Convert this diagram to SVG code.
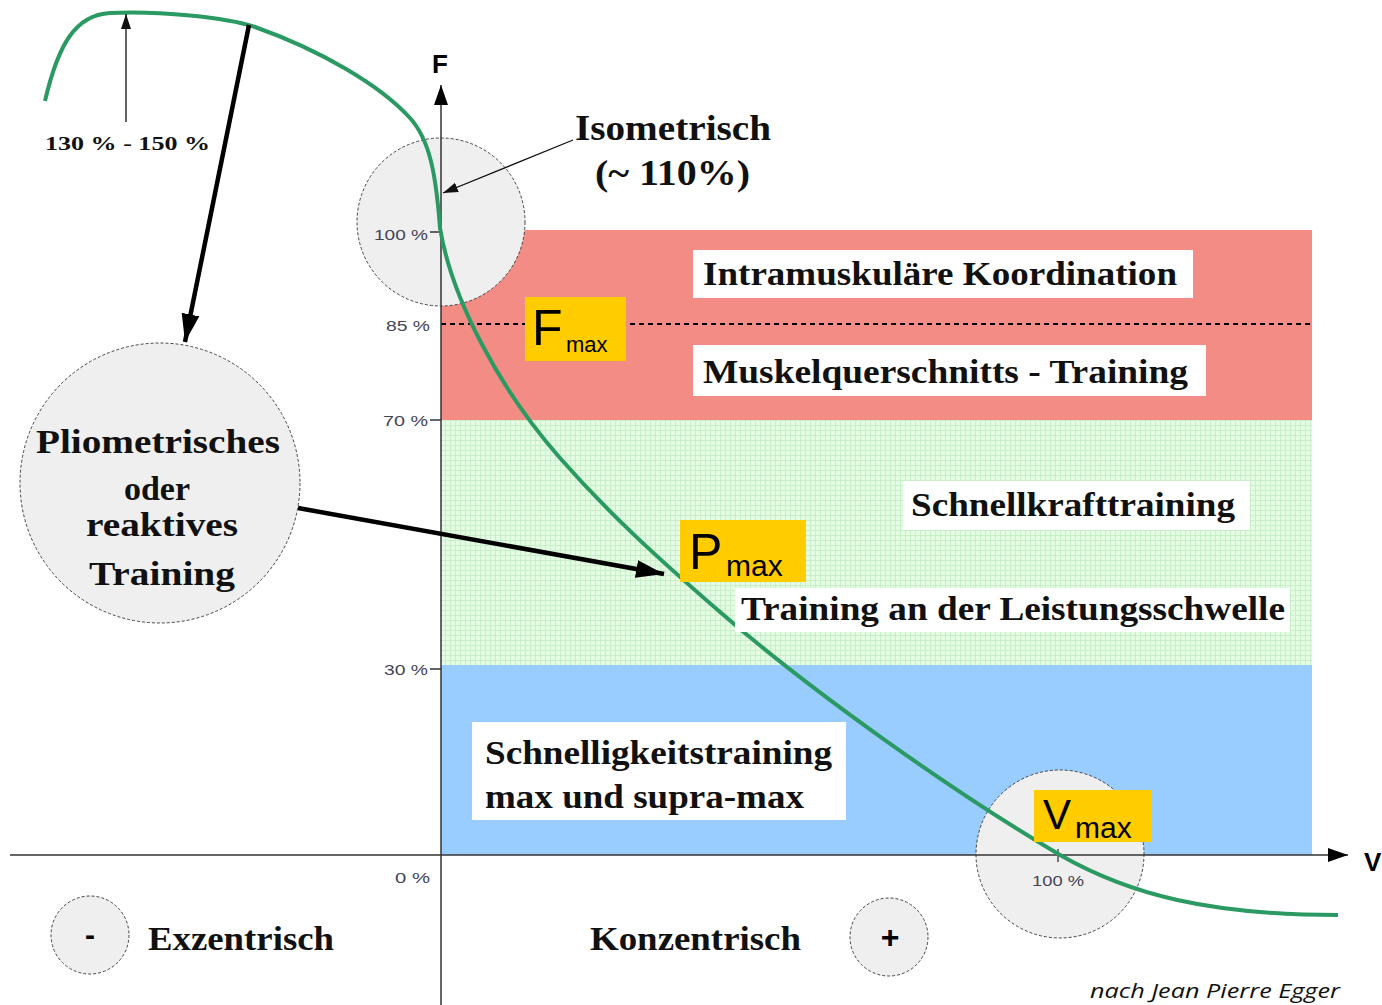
<svg xmlns="http://www.w3.org/2000/svg" width="1382" height="1005" viewBox="0 0 1382 1005">
<style>
.lbl{font-family:"Liberation Serif","Times New Roman",serif;font-weight:bold;fill:#111;}
.tick{font-family:"Liberation Sans",Arial,sans-serif;font-size:15px;fill:#445;}
.sym{font-family:"Liberation Sans",Arial,sans-serif;fill:#000;}
.circ{fill:#efefef;stroke:#444;stroke-width:1;stroke-dasharray:3 2;}
.wbox{fill:#fff;}
.ybox{fill:#ffcc00;}
.axis{stroke:#333;stroke-width:1.5;fill:none;}
.thick{stroke:#000;stroke-width:4.5;fill:none;}
.thin{stroke:#111;stroke-width:1.3;fill:none;}
</style>
<defs>
<pattern id="grid" width="5" height="5" patternUnits="userSpaceOnUse">
<rect width="5" height="5" fill="#e4fbe4"/>
<path d="M0,0.5 H5 M0.5,0 V5" stroke="#c9efc9" stroke-width="1"/>
</pattern>
<marker id="bigArr" markerUnits="userSpaceOnUse" markerWidth="32" markerHeight="20" refX="28" refY="10" orient="auto">
<path d="M0,1 L28,10 L0,19 z" fill="#000"/>
</marker>
<marker id="smallArr" markerUnits="userSpaceOnUse" markerWidth="16" markerHeight="12" refX="15" refY="6" orient="auto">
<path d="M0,1 L15,6 L0,11 z" fill="#111"/>
</marker>
<marker id="axArr" markerUnits="userSpaceOnUse" markerWidth="22" markerHeight="16" refX="20" refY="8" orient="auto">
<path d="M0,1 L20,8 L0,15 z" fill="#000"/>
</marker>
</defs>
<rect width="1382" height="1005" fill="#fff"/>

<g id="zones">
<rect x="441" y="230" width="871" height="190" fill="#f38c85"/>
<rect x="441" y="420" width="871" height="245" fill="url(#grid)"/>
<rect x="441" y="665" width="871" height="190" fill="#99ccff"/>
<line x1="441" y1="324" x2="1312" y2="324" stroke="#000" stroke-width="2" stroke-dasharray="5 4"/>
</g>

<g id="circle-isometric"><circle class="circ" cx="441" cy="222" r="84"/></g>
<g id="circle-vmax"><circle class="circ" cx="1060" cy="854" r="84"/></g>

<g id="axes">
<line class="axis" x1="441" y1="1005" x2="441" y2="85" marker-end="url(#axArr)"/>
<line class="axis" x1="10" y1="855" x2="1348" y2="855" marker-end="url(#axArr)"/>
<text class="sym" x="440" y="73" font-size="26" font-weight="bold" text-anchor="middle">F</text>
<text class="sym" x="1364" y="871" font-size="26" font-weight="bold">V</text>
<path d="M430,232 H441 M430,420 H441 M430,669 H441 M1058,849 V862" stroke="#333" stroke-width="1.3"/>
<text class="tick" x="428" y="240" text-anchor="end" textLength="54" lengthAdjust="spacingAndGlyphs">100 %</text>
<text class="tick" x="430" y="331" text-anchor="end" textLength="44" lengthAdjust="spacingAndGlyphs">85 %</text>
<text class="tick" x="428" y="426" text-anchor="end" textLength="45" lengthAdjust="spacingAndGlyphs">70 %</text>
<text class="tick" x="428" y="675" text-anchor="end" textLength="44" lengthAdjust="spacingAndGlyphs">30 %</text>
<text class="tick" x="430" y="883" text-anchor="end" textLength="35" lengthAdjust="spacingAndGlyphs">0 %</text>
<text class="tick" x="1058" y="886" text-anchor="middle" textLength="52" lengthAdjust="spacingAndGlyphs">100 %</text>
</g>

<g id="curve">
<path d="M45,101 C58,45 75,15 110,13 C160,11 225,17 255,27 C320,50 380,85 410,118 C430,140 436,175 440,228 C452,300 500,390 560,458 C610,515 660,560 720,612 C810,690 950,790 1060,855 C1130,895 1210,915 1338,915" fill="none" stroke="#2a9a62" stroke-width="4"/>
</g>

<g id="connectors">
<line class="thick" x1="249" y1="25" x2="185" y2="342" marker-end="url(#bigArr)"/>
<line class="thick" x1="298" y1="508" x2="664" y2="574" marker-end="url(#bigArr)"/>
<line class="thin" x1="126" y1="122" x2="126" y2="14" marker-end="url(#smallArr)"/>
<line class="thin" x1="573" y1="140" x2="443" y2="193" marker-end="url(#smallArr)"/>
</g>

<g id="label-130">
<text class="lbl" x="45" y="150" font-size="19" textLength="165" lengthAdjust="spacingAndGlyphs">130 % - 150 %</text>
</g>

<g id="label-isometrisch">
<text class="lbl" x="575" y="140" font-size="36" textLength="196" lengthAdjust="spacingAndGlyphs">Isometrisch</text>
<text class="lbl" x="595" y="185" font-size="36" textLength="155" lengthAdjust="spacingAndGlyphs">(~ 110%)</text>
</g>

<g id="box-intramuskulaer">
<rect class="wbox" x="693" y="250" width="500" height="48"/>
<text class="lbl" x="703" y="285" font-size="34" textLength="474" lengthAdjust="spacingAndGlyphs">Intramuskuläre Koordination</text>
</g>
<g id="box-muskelquerschnitt">
<rect class="wbox" x="693" y="345" width="513" height="51"/>
<text class="lbl" x="703" y="383" font-size="34" textLength="485" lengthAdjust="spacingAndGlyphs">Muskelquerschnitts - Training</text>
</g>
<g id="box-schnellkraft">
<rect class="wbox" x="903" y="481" width="347" height="49"/>
<text class="lbl" x="911" y="516" font-size="34" textLength="324" lengthAdjust="spacingAndGlyphs">Schnellkrafttraining</text>
</g>
<g id="box-leistungsschwelle">
<rect class="wbox" x="735" y="588" width="555" height="44"/>
<text class="lbl" x="741" y="620" font-size="34" textLength="544" lengthAdjust="spacingAndGlyphs">Training an der Leistungsschwelle</text>
</g>
<g id="box-schnelligkeit">
<rect class="wbox" x="472" y="722" width="374" height="98"/>
<text class="lbl" x="485" y="764" font-size="34" textLength="347" lengthAdjust="spacingAndGlyphs">Schnelligkeitstraining</text>
<text class="lbl" x="485" y="808" font-size="34" textLength="319" lengthAdjust="spacingAndGlyphs">max und supra-max</text>
</g>

<g id="box-fmax">
<rect class="ybox" x="525" y="297" width="101" height="64"/>
<text class="sym" x="532" y="345" font-size="50">F</text>
<text class="sym" x="566" y="352" font-size="22">max</text>
</g>
<g id="box-pmax">
<rect class="ybox" x="680" y="520" width="126" height="62"/>
<text class="sym" x="689" y="569" font-size="50">P</text>
<text class="sym" x="726" y="576" font-size="30">max</text>
</g>
<g id="box-vmax">
<rect class="ybox" x="1034" y="790" width="118" height="52"/>
<text class="sym" x="1043" y="829" font-size="42">V</text>
<text class="sym" x="1075" y="838" font-size="30">max</text>
</g>

<g id="circle-pliometrisch">
<circle class="circ" cx="160" cy="483" r="140"/>
<text class="lbl" x="158" y="453" font-size="34" text-anchor="middle" textLength="244" lengthAdjust="spacingAndGlyphs">Pliometrisches</text>
<text class="lbl" x="157" y="500" font-size="34" text-anchor="middle">oder</text>
<text class="lbl" x="162" y="536" font-size="34" text-anchor="middle" textLength="152" lengthAdjust="spacingAndGlyphs">reaktives</text>
<text class="lbl" x="162" y="585" font-size="34" text-anchor="middle" textLength="146" lengthAdjust="spacingAndGlyphs">Training</text>
</g>

<g id="node-minus">
<circle class="circ" cx="90" cy="935" r="39"/>
<text class="sym" x="90" y="945" font-size="30" font-weight="bold" text-anchor="middle">-</text>
</g>
<g id="label-exzentrisch">
<text class="lbl" x="148" y="950" font-size="34" textLength="186" lengthAdjust="spacingAndGlyphs">Exzentrisch</text>
</g>
<g id="label-konzentrisch">
<text class="lbl" x="590" y="950" font-size="34" textLength="211" lengthAdjust="spacingAndGlyphs">Konzentrisch</text>
</g>
<g id="node-plus">
<circle class="circ" cx="889" cy="937" r="39"/>
<text class="sym" x="890" y="948" font-size="32" font-weight="bold" text-anchor="middle">+</text>
</g>

<g id="credit">
<text x="1090" y="998" font-family="'Open Sans','Liberation Sans',sans-serif" font-style="italic" font-size="20" fill="#111" textLength="250" lengthAdjust="spacingAndGlyphs">nach Jean Pierre Egger</text>
</g>
</svg>
